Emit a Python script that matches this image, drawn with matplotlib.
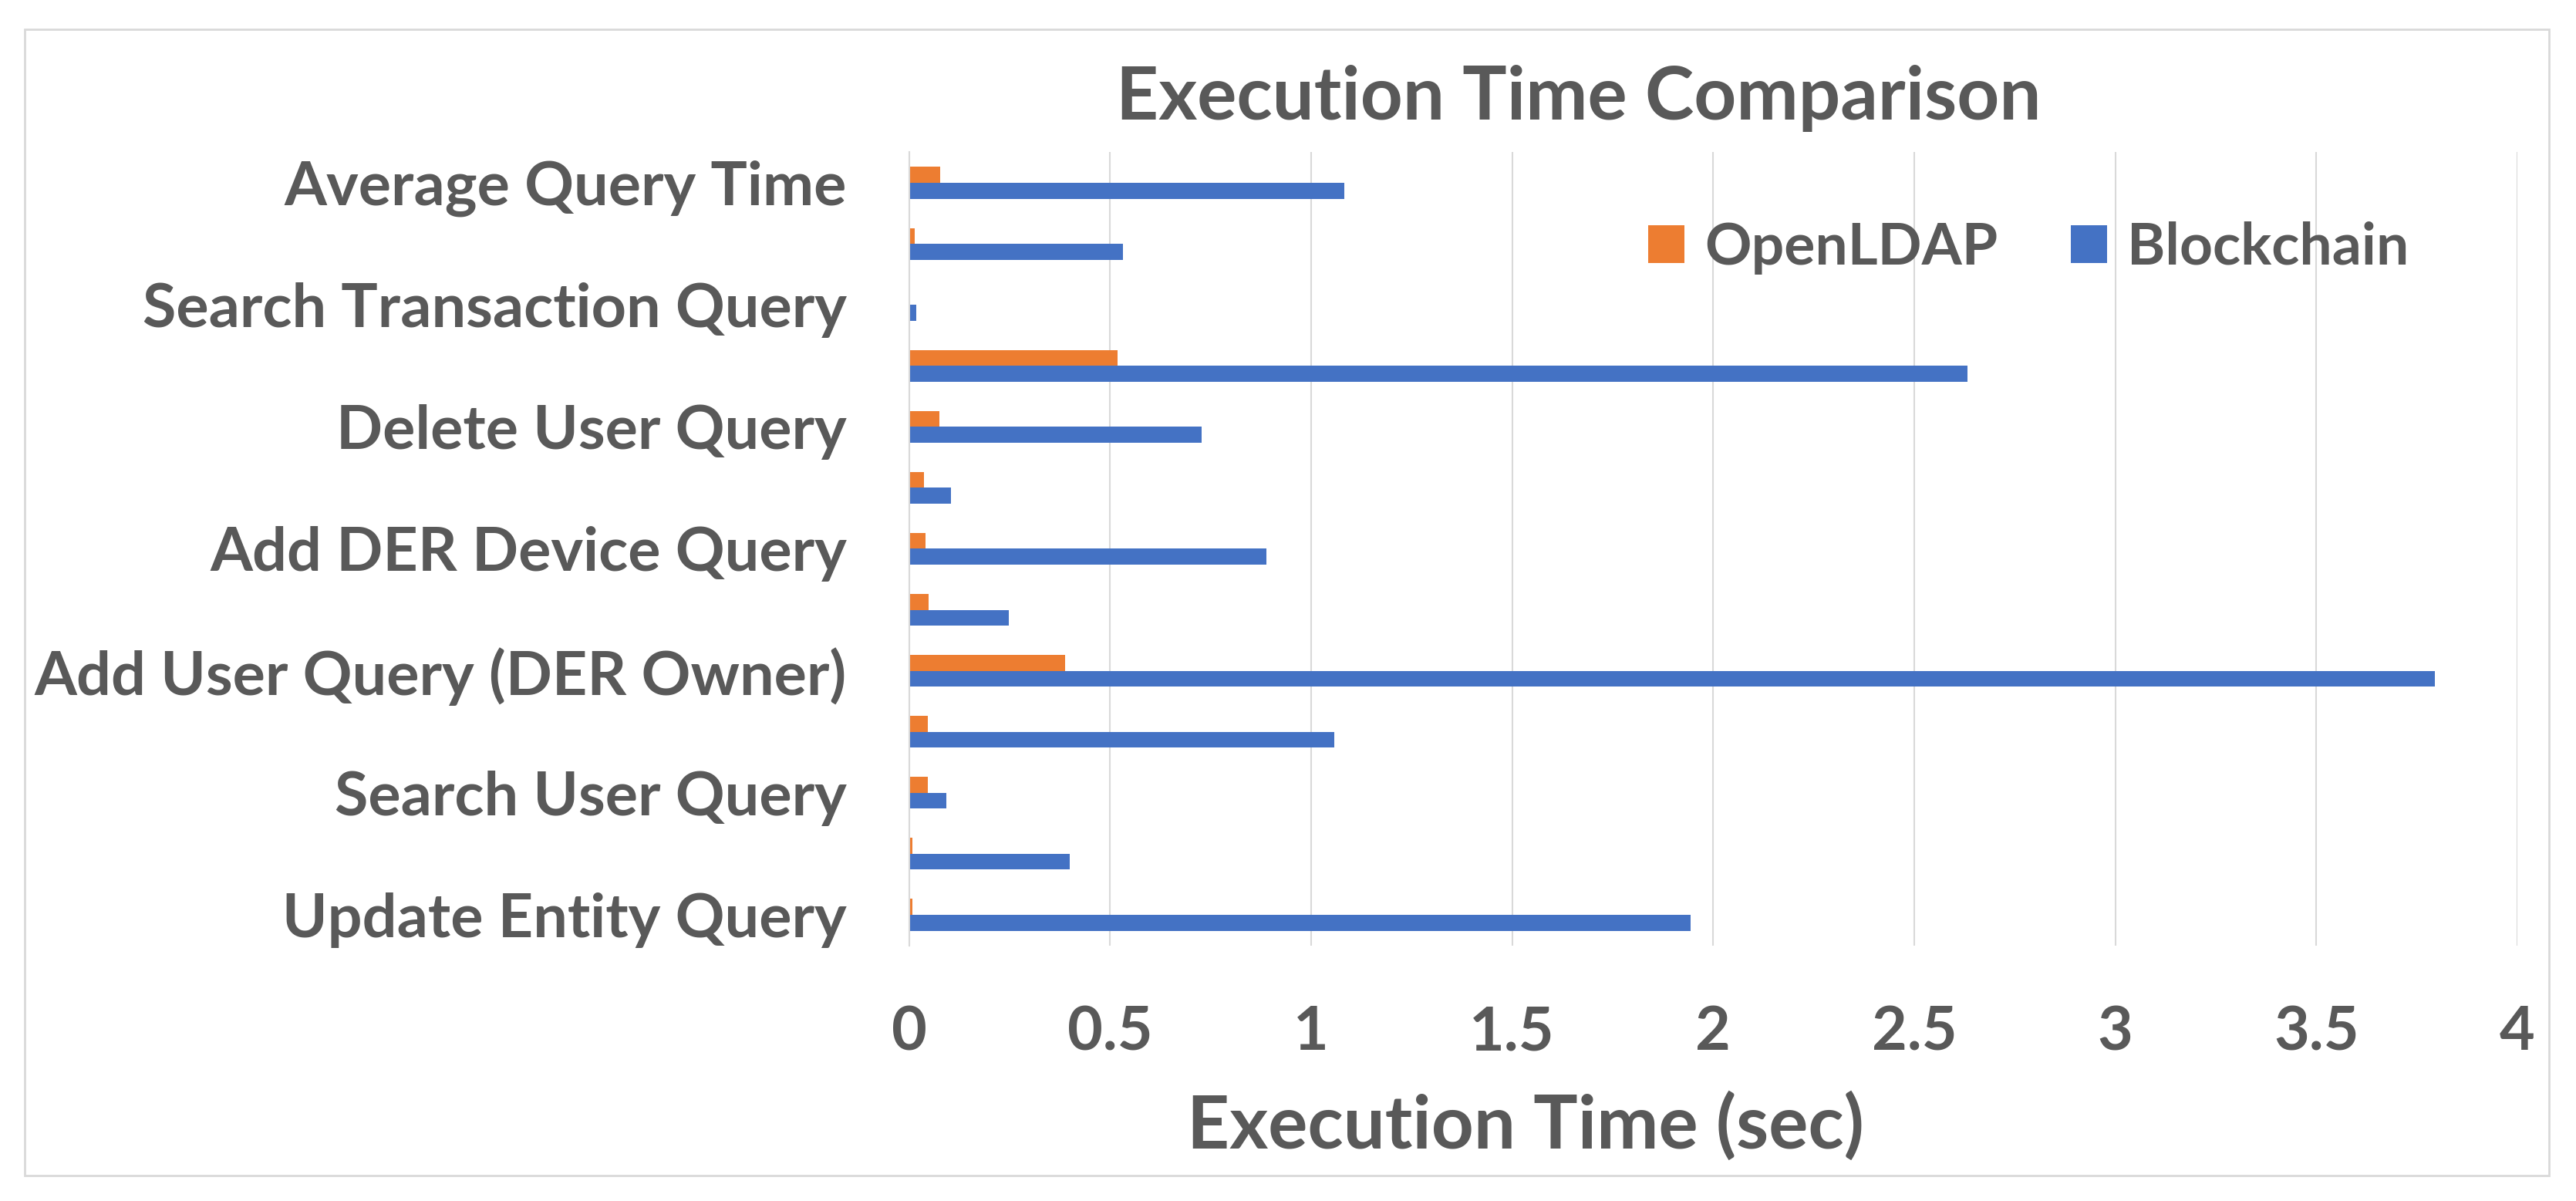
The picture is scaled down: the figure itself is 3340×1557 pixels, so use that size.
# plot.py
# Horizontal grouped bar chart: OpenLDAP vs Blockchain execution times.

import numpy as np
import matplotlib
matplotlib.use("Agg")
import matplotlib.pyplot as plt
from matplotlib.patches import Rectangle

# ---------------------------------------------------------------------------
# Data (bottom -> top). Excel only printed every other category name.
# ---------------------------------------------------------------------------
categories = [
    "Update Entity Query", "",
    "Search User Query", "",
    "Add User Query (DER Owner)", "",
    "Add DER Device Query", "",
    "Delete User Query", "",
    "Search Transaction Query", "",
    "Average Query Time",
]
openldap   = [0.009, 0.009, 0.047, 0.047, 0.388, 0.049, 0.041, 0.038, 0.075, 0.518, 0.001, 0.015, 0.078]
blockchain = [1.943, 0.400, 0.093, 1.057, 3.794, 0.249, 0.888, 0.105, 0.727, 2.632, 0.018, 0.533, 1.082]
series_names = ["OpenLDAP", "Blockchain"]
x_ticks = [0, 0.5, 1, 1.5, 2, 2.5, 3, 3.5, 4]
x_tick_labels = ["0", "0.5", "1", "1.5", "2", "2.5", "3", "3.5", "4"]

# ---------------------------------------------------------------------------
# Style
# ---------------------------------------------------------------------------
ORANGE = "#ED7D31"
BLUE   = "#4472C4"
TEXT   = "#595959"
GRID   = "#D9D9D9"
FONT   = ["Lato", "DejaVu Sans"]
TICK_FS = 57

plt.rcParams["font.family"] = FONT
plt.rcParams["font.weight"] = "bold"

W, H = 3340, 1557
fig = plt.figure(figsize=(W / 100, H / 100), dpi=100)
fig.patch.set_facecolor("white")

# outer chart border
fig.patches.append(Rectangle((32 / W, 1 - 1524 / H), (3305 - 32) / W, (1524 - 38) / H,
                             transform=fig.transFigure, fill=False,
                             edgecolor=GRID, linewidth=2))

# plot area (pixel bounds measured on the reference)
ax = fig.add_axes([1178.6 / W, 1 - 1225.5 / H, (3264 - 1178.6) / W, (1225.5 - 197.5) / H])

y = np.arange(len(categories))
h = 0.26
b1 = ax.barh(y + h / 2, openldap, height=h, color=ORANGE, label=series_names[0], zorder=3)
b2 = ax.barh(y - h / 2, blockchain, height=h, color=BLUE, label=series_names[1], zorder=3)

ax.set_xlim(0, 4)
ax.set_ylim(-0.5, len(categories) - 0.5)
ax.set_xticks(x_ticks)
ax.set_xticklabels(x_tick_labels)
ax.set_yticks(y)
ax.set_yticklabels(categories)

ax.tick_params(axis="both", length=0, labelsize=TICK_FS, labelcolor=TEXT)
ax.tick_params(axis="y", pad=58)
ax.tick_params(axis="x", pad=56)

ax.grid(axis="x", color=GRID, linewidth=1.5, zorder=0)
for side in ["top", "right", "bottom"]:
    ax.spines[side].set_visible(False)
ax.spines["left"].set_color(GRID)
ax.spines["left"].set_linewidth(1.5)
ax.spines["left"].set_zorder(4)

# title and axis title
fig.text(2047 / W, 1 - 155 / H, "Execution Time Comparison", ha="center", va="baseline",
         fontsize=69, color=TEXT, fontweight="bold")
fig.text(1978 / W, 1 - 1489 / H, "Execution Time (sec)", ha="center", va="baseline",
         fontsize=69, color=TEXT, fontweight="bold")

leg = ax.legend(handles=[b1, b2], loc="center left",
                bbox_to_anchor=(2137 / W, 1 - 321 / H), bbox_transform=fig.transFigure,
                ncol=2, frameon=False, fontsize=54, handlelength=0.63,
                handleheight=0.63, handletextpad=0.35, columnspacing=1.25,
                borderpad=0, borderaxespad=0)
for t in leg.get_texts():
    t.set_color(TEXT)

fig.savefig("out.png", dpi=100, facecolor="white")
